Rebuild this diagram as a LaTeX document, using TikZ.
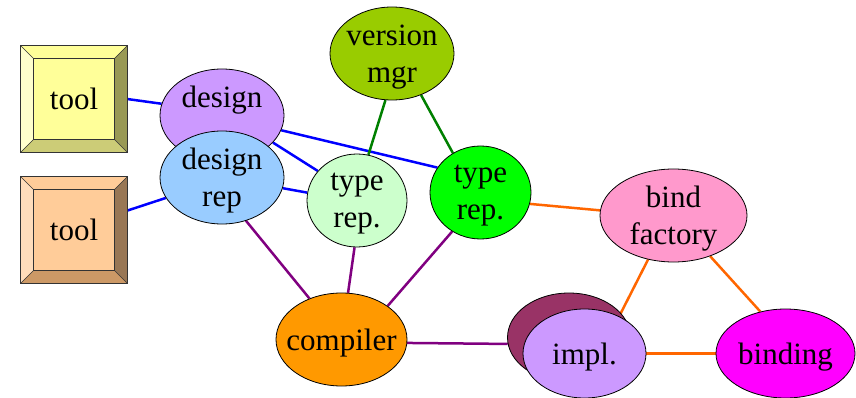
\documentclass[tikz,border=0pt]{standalone}
\usepackage{fontspec}
\setmainfont{Liberation Serif}
\newfontfamily\timesfont{Liberation Serif}
\usetikzlibrary{shapes.geometric,backgrounds,calc}
\definecolor{dsgn}{HTML}{CC99FF}
\definecolor{dsgnrep}{HTML}{99CCFF}
\definecolor{vmgr}{HTML}{99CC00}
\definecolor{trlight}{HTML}{CCFFCC}
\definecolor{trgreen}{HTML}{00FF00}
\definecolor{bfac}{HTML}{FF99CC}
\definecolor{comp}{HTML}{FF9900}
\definecolor{implb}{HTML}{993366}
\definecolor{implf}{HTML}{CC99FF}
\definecolor{bind}{HTML}{FF00FF}
\definecolor{eblue}{HTML}{0000FF}
\definecolor{egreen}{HTML}{008000}
\definecolor{eorange}{HTML}{FF6600}
\definecolor{epurple}{HTML}{800080}
\definecolor{tAface}{HTML}{FFFF99}
\definecolor{tAlight}{HTML}{FFFFCC}
\definecolor{tAdark}{HTML}{999955}
\definecolor{tAmid}{HTML}{CCCC77}
\definecolor{tBface}{HTML}{FFCC99}
\definecolor{tBlight}{HTML}{FFDDBB}
\definecolor{tBdark}{HTML}{997755}
\definecolor{tBmid}{HTML}{CC9966}
% #1 name, #2 centre, #3 face/top, #4 left, #5 right, #6 bottom
\newcommand\bevelbox[6]{%
 \node[toolnode, fill=#3] (#1) at (#2) {tool};
 \fill[#4] (#1.north west) -- ($(#1.north west)+(13,13)$) -- ($(#1.south west)+(13,-13)$) -- (#1.south west) -- cycle;
 \fill[#5] (#1.north east) -- (#1.south east) -- ($(#1.south east)+(-13,-13)$) -- ($(#1.north east)+(-13,13)$) -- cycle;
 \fill[#6] (#1.south west) -- (#1.south east) -- ($(#1.south east)+(-13,-13)$) -- ($(#1.south west)+(13,-13)$) -- cycle;
 \draw[bevelline] (#1.north west) rectangle (#1.south east);
 \draw[bevelline] ($(#1.north west)+(13,13)$) rectangle ($(#1.south east)+(-13,-13)$);
 \draw[bevelline] (#1.north west) -- ++(13,13) (#1.north east) -- ++(-13,13)
   (#1.south east) -- ++(-13,-13) (#1.south west) -- ++(13,-13);
}
\begin{document}
\begin{tikzpicture}[x=1pt,y=-1pt,
  every node/.style={font=\timesfont\fontsize{31}{37}\selectfont},
  ell/.style={ellipse, draw=black, line width=0.8pt, inner sep=-10pt, minimum height=93pt, align=center, text depth=0pt},
  twoline/.style={text depth=-1.5pt},
  toolnode/.style={rectangle, minimum width=106pt, minimum height=106pt, inner sep=0pt, text depth=0pt},
  bevelline/.style={draw=black!80, line width=0.7pt},
  bl/.style={draw=eblue, line width=2.5pt},
  gr/.style={draw=egreen, line width=2.5pt},
  og/.style={draw=eorange, line width=2.5pt},
  pp/.style={draw=epurple, line width=2.5pt}
]
\useasboundingbox (0,0) rectangle (856,398);
\clip (0,0) rectangle (856,398);

\bevelbox{tool1}{74,99}{tAface}{tAlight}{tAdark}{tAmid}
\bevelbox{tool2}{74,230}{tBface}{tBlight}{tBdark}{tBmid}

\node[ell, fill=dsgn, minimum width=124pt, twoline] (design) at (222,115.5) {design\\\mbox{}};
\node[ell, fill=dsgnrep, minimum width=124pt, twoline] (designrep) at (222,177.5) {design\\rep};
\node[ell, fill=vmgr, minimum width=124pt, twoline] (version) at (392,53.5) {version\\mgr};
\node[ell, fill=trlight, minimum width=100pt, twoline] (light) at (357,200.5) {type\\rep.};
\node[ell, fill=trgreen, minimum width=101pt, twoline] (green) at (480.5,192.5) {type\\rep.};
\node[ell, fill=bfac, minimum width=147pt, twoline] (bindf) at (673.5,215.5) {bind\\factory};
\node[ell, fill=comp, minimum width=131pt] (compiler) at (341.5,339.5) {compiler};
\node[ell, fill=implb, minimum width=123pt, minimum height=89pt] (implback) at (569,337.5) {};
\node[ell, fill=implf, minimum width=123pt, minimum height=89pt] (impl) at (584.5,353.5) {impl.};
\node[ell, fill=bind, minimum width=139pt, minimum height=89pt] (binding) at (785.5,353.5) {binding};

\begin{scope}[on background layer]
\draw[bl] (tool1.east) -- (design.169.5);
\draw[bl] (tool2.20.7) -- (designrep.200.1);
\draw[bl] (design.346) -- (green.150);
\draw[bl] (design.332.5) -- (light.143.8);
\draw[bl] (designrep.350) -- (light.171.5);
\draw[gr] (version.262.6) -- (light.76.4);
\draw[gr] (version.305.9) -- (green.125.5);
\draw[og] (green.347.2) -- (bindf.176.5);
\draw[og] (bindf.240.2) -- (impl.47.2);
\draw[og] (bindf.312.1) -- (binding.121.3);
\draw[og] (impl.east) -- (binding.west);
\draw[pp] (designrep.299.5) -- (compiler.128.9);
\draw[pp] (light.267.5) -- (compiler.82);
\draw[pp] (green.234.2) -- (compiler.36.6);
\draw[pp] (compiler.357.8) -- (implback.186);
\end{scope}
\end{tikzpicture}
\end{document}
